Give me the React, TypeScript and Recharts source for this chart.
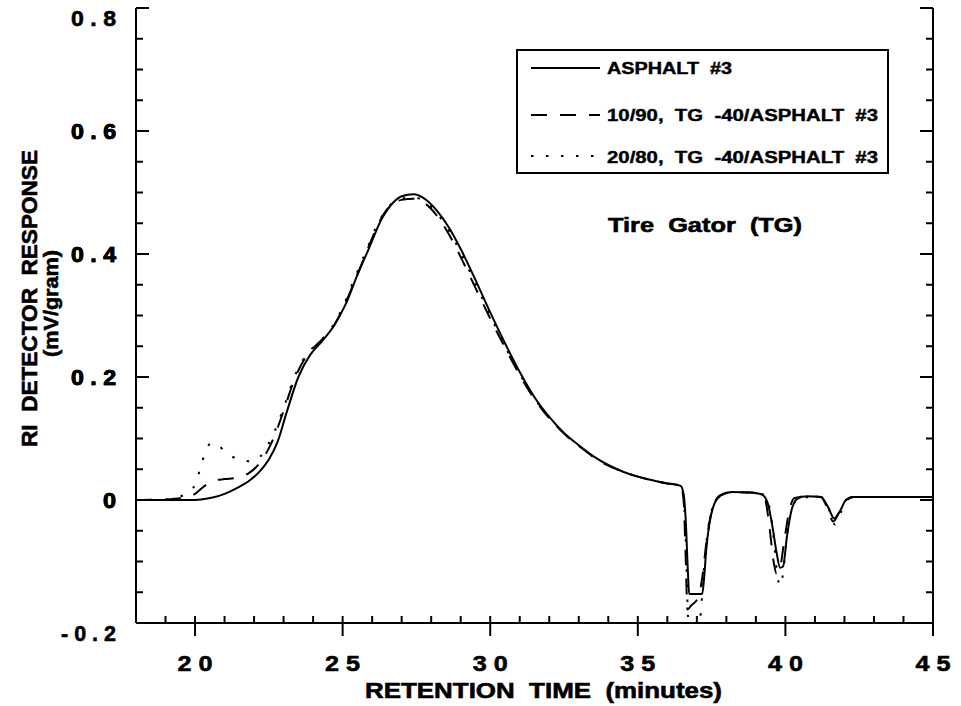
import React from 'react';
import { LineChart, Line, XAxis, YAxis, Legend } from 'recharts';

const FONT = '"Liberation Sans", Arial, Helvetica, sans-serif';

// Series: ASPHALT #3 (solid)
const solidT = [18, 19, 19.8, 20.2, 20.6, 21.0, 21.4, 21.8, 22.2, 22.5, 22.8, 23.1, 23.5, 23.9, 24.3, 24.7, 25.1, 25.5, 25.9, 26.3, 26.7, 27.0, 27.4, 27.8, 28.2, 28.6, 29.0, 29.5, 30.0, 30.5, 31.0, 31.5, 32.0, 32.5, 33.0, 33.5, 34.0, 34.5, 35.0, 35.5, 36.0, 36.45, 36.55, 36.62, 36.7, 36.74, 37.18, 37.24, 37.32, 37.42, 37.55, 37.8, 38.2, 38.8, 39.2, 39.4, 39.55, 39.7, 39.82, 39.92, 40.05, 40.2, 40.4, 40.7, 41.2, 41.45, 41.65, 41.85, 42.05, 42.3, 43, 44, 45];
const solidV = [0, 0, 0, 0.001, 0.004, 0.01, 0.019, 0.03, 0.047, 0.066, 0.095, 0.142, 0.2, 0.236, 0.258, 0.283, 0.318, 0.366, 0.41, 0.455, 0.483, 0.494, 0.497, 0.489, 0.47, 0.443, 0.408, 0.358, 0.305, 0.255, 0.208, 0.167, 0.135, 0.109, 0.089, 0.071, 0.057, 0.046, 0.038, 0.032, 0.027, 0.023, 0.01, -0.03, -0.12, -0.153, -0.153, -0.13, -0.08, -0.04, -0.012, 0.007, 0.013, 0.012, 0.009, -0.005, -0.04, -0.085, -0.11, -0.108, -0.06, -0.018, 0.002, 0.006, 0.005, -0.012, -0.03, -0.018, 0.0, 0.005, 0.005, 0.005, 0.005];

// Series: 10/90, TG -40/ASPHALT #3 (dashed)
const dashT = [18, 19, 19.6, 20.0, 20.3, 20.6, 21.0, 21.4, 21.8, 22.1, 22.4, 22.7, 23.0, 23.4, 23.8, 24.2, 24.6, 25.0, 25.4, 25.8, 26.2, 26.6, 27.0, 27.4, 27.8, 28.2, 28.6, 29.0, 29.5, 30.0, 30.5, 31.0, 31.5, 32.0, 32.5, 33.0, 33.5, 34.0, 34.5, 35.0, 35.5, 36.0, 36.45, 36.55, 36.62, 36.68, 36.8, 37.05, 37.2, 37.32, 37.45, 37.6, 37.8, 38.2, 38.8, 39.2, 39.32, 39.45, 39.6, 39.7, 39.82, 39.95, 40.1, 40.3, 40.7, 41.2, 41.42, 41.62, 41.82, 42.05, 42.3, 43, 44, 45];
const dashV = [0, 0.001, 0.004, 0.01, 0.022, 0.031, 0.034, 0.036, 0.043, 0.055, 0.075, 0.105, 0.145, 0.2, 0.236, 0.256, 0.276, 0.31, 0.355, 0.402, 0.448, 0.478, 0.488, 0.49, 0.482, 0.462, 0.432, 0.395, 0.345, 0.295, 0.248, 0.203, 0.164, 0.133, 0.108, 0.088, 0.07, 0.056, 0.046, 0.038, 0.032, 0.027, 0.024, 0.0, -0.09, -0.178, -0.172, -0.158, -0.12, -0.07, -0.03, -0.005, 0.008, 0.013, 0.012, 0.009, 0.0, -0.04, -0.1, -0.12, -0.11, -0.07, -0.025, 0.003, 0.006, 0.005, -0.013, -0.035, -0.02, 0.0, 0.005, 0.005, 0.005, 0.005];

// Series: 20/80, TG -40/ASPHALT #3 (dotted)
const dotT = [18, 18.9, 19.3, 19.7, 20.0, 20.2, 20.4, 20.6, 20.8, 21.1, 21.5, 21.9, 22.2, 22.45, 22.7, 23.0, 23.4, 23.8, 24.2, 24.6, 25.0, 25.4, 25.8, 26.2, 26.6, 27.0, 27.4, 27.8, 28.2, 28.6, 29.0, 29.5, 30.0, 30.5, 31.0, 31.5, 32.0, 32.5, 33.0, 33.5, 34.0, 34.5, 35.0, 35.5, 36.0, 36.45, 36.55, 36.62, 36.7, 36.78, 37.0, 37.12, 37.26, 37.4, 37.55, 37.8, 38.2, 38.8, 39.25, 39.45, 39.6, 39.72, 39.82, 39.92, 40.05, 40.25, 40.5, 41.2, 41.45, 41.68, 41.88, 42.1, 42.3, 43, 44, 45];
const dotV = [0, 0, 0.004, 0.01, 0.025, 0.055, 0.085, 0.093, 0.088, 0.075, 0.066, 0.063, 0.07, 0.088, 0.112, 0.15, 0.204, 0.238, 0.257, 0.278, 0.313, 0.36, 0.405, 0.45, 0.479, 0.49, 0.492, 0.485, 0.466, 0.438, 0.402, 0.352, 0.3, 0.25, 0.205, 0.165, 0.134, 0.108, 0.088, 0.07, 0.056, 0.046, 0.038, 0.032, 0.027, 0.023, 0.005, -0.06, -0.19, -0.23, -0.23, -0.19, -0.1, -0.04, -0.01, 0.007, 0.013, 0.012, 0.009, -0.01, -0.06, -0.12, -0.14, -0.12, -0.06, -0.01, 0.004, 0.005, -0.012, -0.04, -0.02, 0.0, 0.005, 0.005, 0.005, 0.005];

const seriesNames = ['ASPHALT  #3', '10/90,  TG  -40/ASPHALT  #3', '20/80,  TG  -40/ASPHALT  #3'];
const seriesDash = ['', '16 13', '2.5 12.5'];

const xMinorTicks = [19, 20, 21, 22, 23, 24, 25, 26, 27, 28, 29, 30, 31, 32, 33, 34, 35, 36, 37, 38, 39, 40, 41, 42, 43, 44, 45];
const xMajorTicks = [20, 25, 30, 35, 40, 45];
const xMajorLabels = ['2 0', '2 5', '3 0', '3 5', '4 0', '4 5'];

const yMinorTicks = [-0.15, -0.1, -0.05, 0, 0.05, 0.1, 0.15, 0.2, 0.25, 0.3, 0.35, 0.4, 0.45, 0.5, 0.55, 0.6, 0.65, 0.7, 0.75];
const yMajorTicks = [-0.2, 0, 0.2, 0.4, 0.6, 0.8];
const yMajorLabels = ['- 0 . 2', '0', '0 . 2', '0 . 4', '0 . 6', '0 . 8'];

const toRows = (t: number[], v: number[]) => t.map((x, i) => ({ t: x, v: v[i] }));
const solidData = toRows(solidT, solidV);
const dashData = toRows(dashT, dashV);
const dotData = toRows(dotT, dotV);

const near = (a: number, list: number[]) => list.findIndex((b) => Math.abs(a - b) < 1e-6);

const TXT = {
  fontFamily: FONT, fontWeight: 'bold' as const, fill: '#000', stroke: '#000', strokeWidth: 0.6,
  style: { whiteSpace: 'pre' as const },
};

const XTick = (props: any) => {
  const { x, y, payload } = props;
  const mi = near(payload.value, xMajorTicks);
  const major = mi >= 0;
  return (
    <g>
      <line x1={x} x2={x} y1={y - 7} y2={major ? y + 13 : y} stroke="#000" strokeWidth={2} />
      {major && (
        <text x={x} y={y + 48} textAnchor="middle" fontSize={22} {...TXT}
          textLength={35} lengthAdjust="spacingAndGlyphs">
          {xMajorLabels[mi]}
        </text>
      )}
    </g>
  );
};

const YTickLeft = (props: any) => {
  const { x, y, payload } = props;
  const mi = near(payload.value, yMajorTicks);
  const major = mi >= 0;
  const label = major ? yMajorLabels[mi] : '';
  const len = label === '0' ? 13 : label.startsWith('-') ? 55 : 45;
  const edge = Math.abs(payload.value - 0.8) < 1e-6 || Math.abs(payload.value + 0.2) < 1e-6;
  return (
    <g>
      <line x1={x} x2={x + (major ? 13 : 7)} y1={y} y2={y} stroke="#000" strokeWidth={2} />
      {major && (
        <text x={x - 20} y={y + (edge ? 18 : 8)} textAnchor="end" fontSize={22} {...TXT}
          textLength={len} lengthAdjust="spacingAndGlyphs">
          {label}
        </text>
      )}
    </g>
  );
};

const YTickRight = (props: any) => {
  const { x, y, payload } = props;
  const major = near(payload.value, yMajorTicks) >= 0;
  return <line x1={x} x2={x - (major ? 13 : 7)} y1={y} y2={y} stroke="#000" strokeWidth={2} />;
};

const LegendBox = () => (
  <svg width={376} height={128} style={{ display: 'block' }}>
    <rect x={1} y={1} width={371} height={123} fill="#fff" stroke="#000" strokeWidth={2} />
    {seriesNames.map((name, i) => {
      const ly = [19, 66, 107][i];
      const ty = [25, 72, 114][i];
      return (
        <g key={name}>
          <line x1={15} x2={84} y1={ly} y2={ly} stroke="#000" strokeWidth={2}
            strokeDasharray={seriesDash[i] || undefined} />
          <text x={91} y={ty} fontSize={16} {...TXT} strokeWidth={0.4}
            textLength={i === 0 ? 125 : 271} lengthAdjust="spacingAndGlyphs">
            {name}
          </text>
        </g>
      );
    })}
  </svg>
);

const YTitle = (props: any) => {
  const { viewBox } = props;
  const cy = viewBox.y + viewBox.height / 2;
  return (
    <g>
      <text x={0} y={0} transform={`translate(37, ${cy - 17}) rotate(-90)`} textAnchor="middle"
        fontSize={22} {...TXT} textLength={297} lengthAdjust="spacingAndGlyphs">
        RI  DETECTOR  RESPONSE
      </text>
      <text x={0} y={0} transform={`translate(58, ${cy - 12}) rotate(-90)`} textAnchor="middle"
        fontSize={20} {...TXT} textLength={107} lengthAdjust="spacingAndGlyphs">
        (mV/gram)
      </text>
    </g>
  );
};

const XTitle = (props: any) => {
  const { viewBox } = props;
  const cx = viewBox.x + viewBox.width / 2 + 9;
  return (
    <text x={cx} y={viewBox.y + 75} textAnchor="middle" fontSize={22} {...TXT}
      textLength={357} lengthAdjust="spacingAndGlyphs">
      RETENTION  TIME  (minutes)
    </text>
  );
};

export default function App() {
  return (
    <div style={{ position: 'absolute', left: 0, top: 0, width: 961, height: 706, background: '#fff' }}>
      <LineChart width={961} height={706} margin={{ top: 8, right: 0, bottom: 0, left: 0 }}>
        <XAxis xAxisId="b" type="number" dataKey="t" domain={[18, 45]} allowDataOverflow ticks={xMinorTicks}
          interval={0} height={83} tickSize={0} tickMargin={0} tickLine={false} tick={<XTick />}
          axisLine={{ stroke: '#000', strokeWidth: 2 }} label={<XTitle />} />
        <XAxis xAxisId="t" orientation="top" type="number" dataKey="t" domain={[18, 45]} allowDataOverflow
          height={0} tick={false} tickLine={false} axisLine={{ stroke: '#000', strokeWidth: 2 }} />
        <YAxis yAxisId="l" type="number" domain={[-0.2, 0.8]} allowDataOverflow ticks={[...yMinorTicks, ...yMajorTicks]}
          interval={0} width={136} tickSize={0} tickMargin={0} tickLine={false} tick={<YTickLeft />}
          axisLine={{ stroke: '#000', strokeWidth: 2 }} label={<YTitle />} />
        <YAxis yAxisId="r" orientation="right" type="number" domain={[-0.2, 0.8]} allowDataOverflow
          ticks={[...yMinorTicks, ...yMajorTicks]} interval={0} width={28} tickSize={0} tickMargin={0}
          tickLine={false} tick={<YTickRight />} axisLine={{ stroke: '#000', strokeWidth: 2 }} />
        <Legend layout="vertical" align="center" verticalAlign="middle" content={<LegendBox />}
          wrapperStyle={{ position: 'absolute', left: 516, top: 49, width: 376, height: 128 }} />
        <Line xAxisId="b" yAxisId="l" data={solidData} dataKey="v" name={seriesNames[0]} type="monotone"
          stroke="#000" strokeWidth={2} dot={false} activeDot={false} isAnimationActive={false} />
        <Line xAxisId="b" yAxisId="l" data={dashData} dataKey="v" name={seriesNames[1]} type="monotone"
          stroke="#000" strokeWidth={2} strokeDasharray={seriesDash[1]} dot={false} activeDot={false} isAnimationActive={false} />
        <Line xAxisId="b" yAxisId="l" data={dotData} dataKey="v" name={seriesNames[2]} type="monotone"
          stroke="#000" strokeWidth={2} strokeDasharray={seriesDash[2]} dot={false} activeDot={false} isAnimationActive={false} />
      </LineChart>
      <svg width={961} height={706} style={{ position: 'absolute', left: 0, top: 0, pointerEvents: 'none' }}>
        <text x={608} y={232} fontSize={21} {...TXT} textLength={194} lengthAdjust="spacingAndGlyphs">
          Tire  Gator  (TG)
        </text>
      </svg>
    </div>
  );
}
